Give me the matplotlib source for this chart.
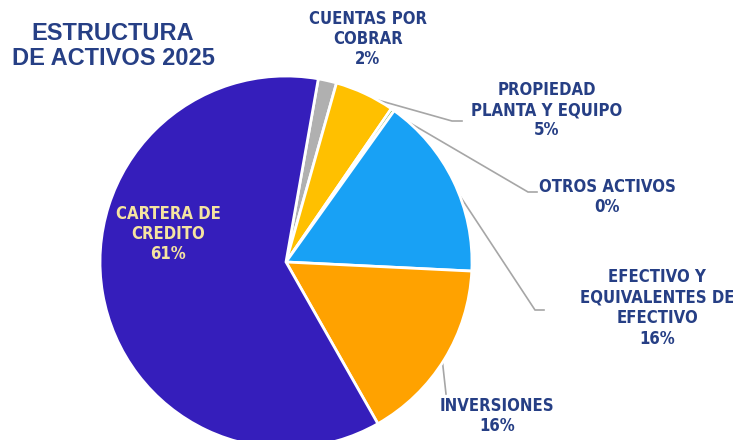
import matplotlib
matplotlib.use("Agg")
import matplotlib.pyplot as plt
import numpy as np

# ---- data ----
categories = ["CUENTAS POR\nCOBRAR", "PROPIEDAD\nPLANTA Y EQUIPO", "OTROS ACTIVOS",
              "EFECTIVO Y\nEQUIVALENTES DE\nEFECTIVO", "INVERSIONES", "CARTERA DE\nCREDITO"]
values = [1.6, 5.2, 0.3, 15.9, 16.0, 61.0]
pct_labels = ["2%", "5%", "0%", "16%", "16%", "61%"]
colors = ["#B0B0B0", "#FFC000", "#70AD47", "#18A1F5", "#FFA200", "#351EBB"]
title = "ESTRUCTURA\nDE ACTIVOS 2025"

W, H = 733, 440
CX, CY, R = 286, 262, 186  # pixel center & radius

fig = plt.figure(figsize=(W / 100, H / 100), dpi=100)
ax = fig.add_axes([0, 0, 1, 1])


def px(x, y):
    return ((x - CX) / R, (CY - y) / R)


wedges, _ = ax.pie(values, colors=colors, startangle=80, counterclock=False,
                   radius=1.0, center=(0, 0),
                   wedgeprops=dict(edgecolor="white", linewidth=2))
ax.set_xlim(-CX / R, (W - CX) / R)
ax.set_ylim(-(H - CY) / R, CY / R)
ax.set_aspect("equal")
ax.axis("off")

navy = "#263F85"
fkw = dict(fontsize=12, fontweight="bold", family="DejaVu Sans",
           fontstretch="condensed", ha="center", va="center", linespacing=1.17)

# label positions (pixel layout)
label_pos = [(368, 39), (547, 110), (607, 197), (657, 308), (497, 416), (168, 234)]
# leader elbows (pixel layout): (elbow, end) or None
elbows = [None, ((452, 121), (462, 121)), ((528, 192), (537, 192)),
          ((535, 310), (544, 310)), ((446, 394), (446, 394)), None]

for i, w in enumerate(wedges):
    txt = categories[i] + "\n" + pct_labels[i]
    color = "#F5E4A0" if i == 5 else navy
    x, y = px(*label_pos[i])
    ax.text(x, y, txt, color=color, **fkw)
    if elbows[i] is not None:
        mid = np.deg2rad((w.theta1 + w.theta2) / 2)
        rr = 0.985
        sx, sy = rr * np.cos(mid), rr * np.sin(mid)
        ex, ey = px(*elbows[i][0])
        fx, fy = px(*elbows[i][1])
        ax.plot([sx, ex, fx], [sy, ey, fy], color="#A6A6A6", lw=1.2,
                solid_joinstyle="miter", zorder=0.5)

tx, ty = px(113, 46)
ax.text(tx, ty, title, color=navy, fontsize=17, fontweight="bold",
        family="Liberation Sans", ha="center", va="center", linespacing=1.15)

fig.savefig("out.png", dpi=100)
